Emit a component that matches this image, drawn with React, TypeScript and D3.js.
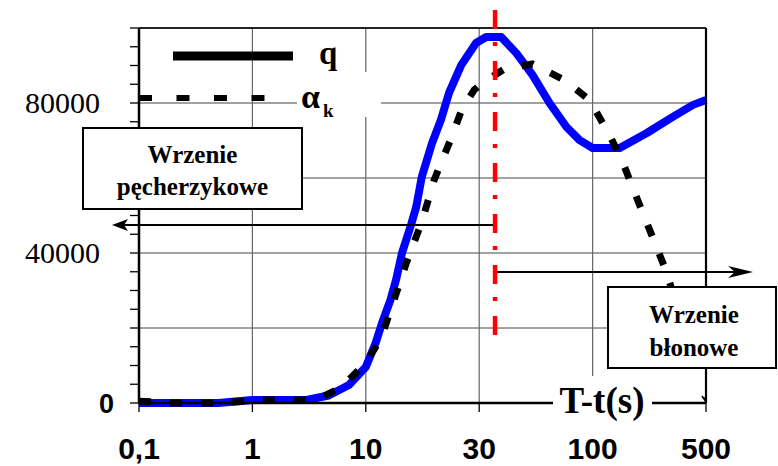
import React from 'react';
import * as d3 from 'd3';

// axis categories (the x axis is evenly spaced at these times)
const tickValues = [0.1, 1, 10, 30, 100, 500];
const tickLabels = ['0,1', '1', '10', '30', '100', '500'];
const yLabelValues = [0, 40000, 80000];
const gridValues = [20000, 40000, 60000, 80000];

// q series (solid blue)
const qTime = [0.1, 0.5, 1, 3, 4.7, 7.1, 10, 11, 11.7, 12.7, 13.4, 14.2, 15.5, 16.3, 17.2, 19, 20.7, 22.4, 25.2, 29.1, 32.3, 37.9, 44.5, 52.8, 63.3, 75.8, 87.1, 100, 147, 216, 312, 416, 500];
const qValues = [0, 0, 800, 800, 2000, 4800, 9600, 16000, 21300, 27500, 32800, 40000, 47500, 52300, 60300, 69300, 75500, 82700, 90100, 96000, 97600, 97600, 93300, 87500, 80000, 73600, 70100, 68000, 68000, 72000, 76300, 79500, 80800];

// alpha_k series (dashed black), runs on behind the "Wrzenie błonowe" box
const akTime = [0.1, 0.2, 0.5, 0.8, 1, 3, 3.9, 6, 10, 11.6, 12.9, 14.8, 17.2, 19.4, 22.9, 25.4, 28.6, 31, 39.2, 52.8, 74.3, 96.8, 127, 153, 182, 225, 279, 371, 420];
const akValues = [500, 0, 0, 400, 800, 800, 1300, 4000, 10700, 17300, 25900, 37300, 48300, 59500, 70700, 78400, 83500, 85300, 89100, 90400, 86100, 80800, 71500, 64300, 56000, 46100, 36000, 19500, 12000];

const markerTime = 35.5; // red dash-dot line

const width = 778;
const height = 466;
const margin = { top: 28, right: 72, bottom: 63, left: 139 };
const serif = '"Liberation Serif", "Times New Roman", serif';
const sans = '"Liberation Sans", Arial, sans-serif';

const App = () => {
  const left = margin.left;
  const right = width - margin.right;
  const top = margin.top;
  const bottom = height - margin.bottom;
  const step = (right - left) / (tickValues.length - 1);

  const x = d3.scaleLog()
    .domain(tickValues)
    .range(tickValues.map((d, i) => left + i * step));
  const y = d3.scaleLinear().domain([0, 100000]).range([bottom, top]);

  const line = d3.line<[number, number]>()
    .x(d => x(d[0]))
    .y(d => y(d[1]));

  const qPath = line(qTime.map((t, i) => [t, qValues[i]])) || '';
  const akPath = line(akTime.map((t, i) => [t, akValues[i]])) || '';
  const minorTicks = d3.range(0, 100001, 5000);
  const xm = x(markerTime);

  return (
    <div style={{ position: 'absolute', left: 0, top: 0 }}>
      <svg width={width} height={height} style={{ display: 'block', background: '#fff' }}>
        {/* grid */}
        {gridValues.map(v => (
          <line key={'h' + v} x1={left} x2={right} y1={y(v)} y2={y(v)} stroke="#444" strokeWidth={1} />
        ))}
        {tickValues.slice(1, -1).map(v => (
          <line key={'v' + v} x1={x(v)} x2={x(v)} y1={top} y2={bottom} stroke="#666" strokeWidth={1.2} />
        ))}

        {/* series */}
        <path d={qPath} fill="none" stroke="#0000ff" strokeWidth={8} strokeLinejoin="round" />
        <path d={akPath} fill="none" stroke="#000" strokeWidth={7} strokeDasharray="12,19" />

        {/* frame and axes */}
        <line x1={left} x2={right} y1={top} y2={top} stroke="#222" strokeWidth={2} />
        <line x1={right} x2={right} y1={top} y2={bottom} stroke="#000" strokeWidth={2.2} />
        <line x1={left} x2={left} y1={top} y2={bottom} stroke="#000" strokeWidth={2.5} />
        <line x1={left} x2={right} y1={bottom} y2={bottom} stroke="#000" strokeWidth={2.5} />
        <path d={`M${right - 4},${bottom - 7} L${right},${bottom - 1} L${right - 1},${bottom - 6}`} fill="none" stroke="#000" strokeWidth={1.5} />
        {minorTicks.map(v => (
          <line key={'t' + v} x1={left - 9} x2={left} y1={y(v)} y2={y(v)} stroke="#000" strokeWidth={1.3} />
        ))}
        {tickValues.map(v => (
          <line key={'xt' + v} x1={x(v)} x2={x(v)} y1={bottom} y2={bottom + 9} stroke="#000" strokeWidth={1.3} />
        ))}

        {/* axis labels */}
        {tickValues.map((v, i) => (
          <text key={'xl' + v} x={x(v)} y={459} textAnchor="middle" fontFamily={sans} fontWeight="bold" fontSize={30}>
            {tickLabels[i]}
          </text>
        ))}
        {yLabelValues.map(v => v === 0 ? (
          <text key={'yl' + v} x={114} y={y(v) + 10} textAnchor="end" fontFamily={sans} fontWeight="bold" fontSize={27}>0</text>
        ) : (
          <text key={'yl' + v} x={100} y={y(v) + 10} textAnchor="end" fontFamily={serif} fontSize={30}>{v}</text>
        ))}

        {/* legend */}
        <line x1={173} x2={293} y1={56} y2={56} stroke="#000" strokeWidth={9} />
        <text x={319} y={64} fontFamily={serif} fontWeight="bold" fontSize={33}>q</text>
        <rect x={297} y={72} width={84} height={45} fill="#fff" />
        <line x1={left} x2={267} y1={98} y2={98} stroke="#000" strokeWidth={6} strokeDasharray="13,24.5" />
        <text x={301} y={108} fontFamily={serif} fontWeight="bold" fontSize={34}>α</text>
        <text x={323} y={117} fontFamily={serif} fontWeight="bold" fontSize={19}>k</text>

        {/* boxes */}
        <rect x={83} y={128} width={219} height={81} fill="#fff" stroke="#000" strokeWidth={2} />
        <text x={192.5} y={163} textAnchor="middle" fontFamily={serif} fontWeight="bold" fontSize={25}>Wrzenie</text>
        <text x={192.5} y={195} textAnchor="middle" fontFamily={serif} fontWeight="bold" fontSize={25}>pęcherzykowe</text>

        <rect x={608} y={287} width={168} height={81} fill="#fff" stroke="#000" strokeWidth={2} />
        <text x={694} y={323} textAnchor="middle" fontFamily={serif} fontWeight="bold" fontSize={25}>Wrzenie</text>
        <text x={694} y={356} textAnchor="middle" fontFamily={serif} fontWeight="bold" fontSize={25}>błonowe</text>

        {/* arrows */}
        <line x1={xm - 2} x2={120} y1={225} y2={225} stroke="#000" strokeWidth={1.8} />
        <path d="M112,225 L128,219 L124,225 L128,231 Z" fill="#000" />
        <line x1={xm} x2={745} y1={272} y2={272} stroke="#000" strokeWidth={1.8} />
        <path d="M753,272 L728,266 L735,272 L728,278 Z" fill="#000" />

        {/* axis title */}
        <rect x={553} y={376} width={99} height={44} fill="#fff" />
        <text x={602} y={413} textAnchor="middle" fontFamily={serif} fontWeight="bold" fontSize={37}>T-t(s)</text>

        {/* red marker */}
        <line x1={xm} x2={xm} y1={10} y2={337} stroke="#ff0000" strokeWidth={4.5} strokeDasharray="19,13,4,15" />
      </svg>
    </div>
  );
};

export default App;
